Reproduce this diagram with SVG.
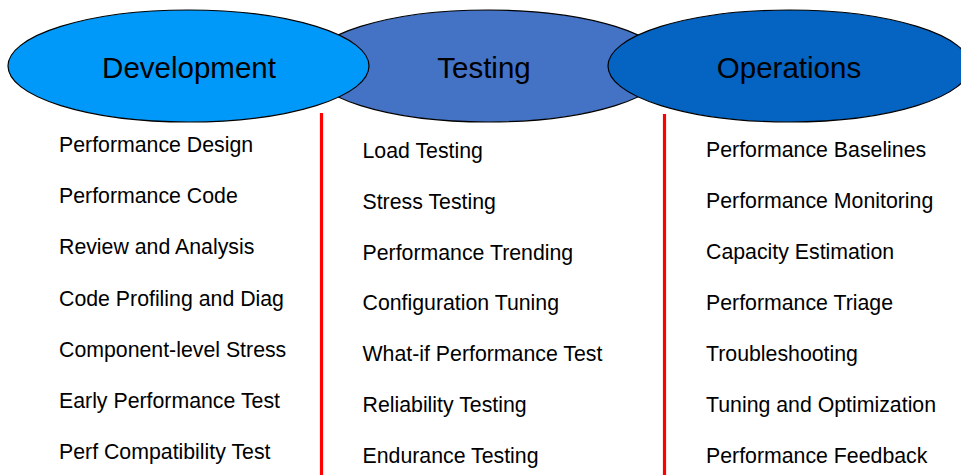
<svg xmlns="http://www.w3.org/2000/svg" width="961" height="475" viewBox="0 0 961 475">
<style>
.hdr{font-family:"Liberation Sans",Arial,sans-serif;font-size:29.5px;fill:#000;text-anchor:middle}
.item{font-family:"Liberation Sans",Arial,sans-serif;font-size:21.3px;fill:#000}
.ell{stroke:#000;stroke-width:1.2}
.div{stroke:#ff0000;stroke-width:3.2}
</style>
<rect width="961" height="475" fill="#fff"/>
<g id="testing">
<ellipse class="ell" cx="488" cy="66" rx="180" ry="56" fill="#4472c4"/>
<text class="hdr" x="484" y="78">Testing</text>
</g>
<g id="development">
<ellipse class="ell" cx="188.5" cy="66" rx="180.5" ry="56" fill="#0099fa"/>
<text class="hdr" x="189" y="78">Development</text>
</g>
<g id="operations">
<ellipse class="ell" cx="789" cy="66" rx="181" ry="56" fill="#0563c1"/>
<text class="hdr" x="789" y="78">Operations</text>
</g>
<g id="connectors">
<line class="div" x1="321.5" y1="113" x2="321.5" y2="475"/>
<line class="div" x1="664.5" y1="114" x2="664.5" y2="475"/>
</g>
<g id="dev-items" class="item">
<text x="59" y="152">Performance Design</text>
<text x="59" y="203.2">Performance Code</text>
<text x="59" y="254.4">Review and Analysis</text>
<text x="59" y="305.6">Code Profiling and Diag</text>
<text x="59" y="356.8">Component-level Stress</text>
<text x="59" y="408">Early Performance Test</text>
<text x="59" y="459.2">Perf Compatibility Test</text>
</g>
<g id="test-items" class="item">
<text x="362.5" y="157.6">Load Testing</text>
<text x="362.5" y="208.5">Stress Testing</text>
<text x="362.5" y="259.5">Performance Trending</text>
<text x="362.5" y="310.4">Configuration Tuning</text>
<text x="362.5" y="361.4">What-if Performance Test</text>
<text x="362.5" y="412.3">Reliability Testing</text>
<text x="362.5" y="463.3">Endurance Testing</text>
</g>
<g id="ops-items" class="item">
<text x="706" y="156.8">Performance Baselines</text>
<text x="706" y="207.8">Performance Monitoring</text>
<text x="706" y="258.8">Capacity Estimation</text>
<text x="706" y="309.8">Performance Triage</text>
<text x="706" y="360.8">Troubleshooting</text>
<text x="706" y="411.8">Tuning and Optimization</text>
<text x="706" y="462.8">Performance Feedback</text>
</g>
</svg>
